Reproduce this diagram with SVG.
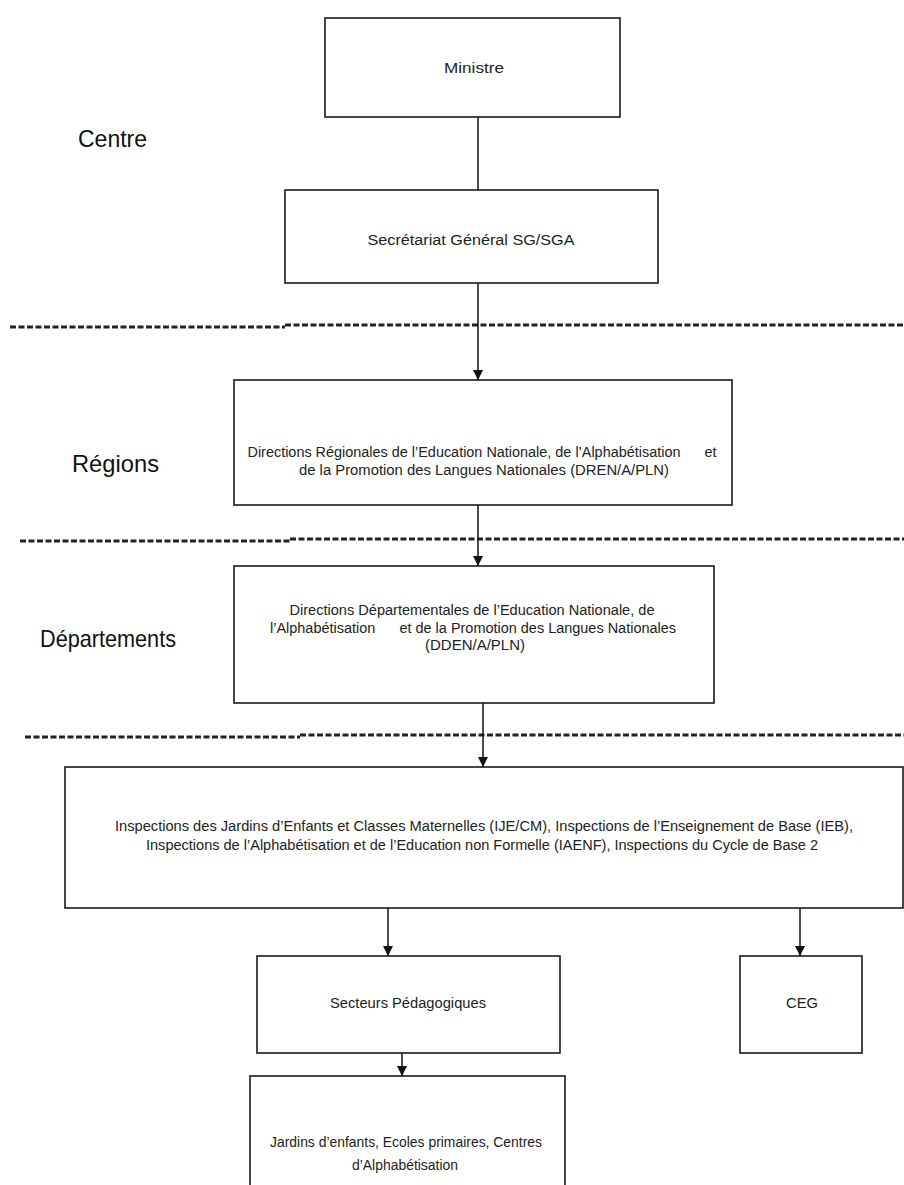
<svg xmlns="http://www.w3.org/2000/svg" width="904" height="1185" viewBox="0 0 904 1185">
<style>
.box{fill:#fff;stroke:#1a1a1a;stroke-width:1.6}
.t{font-family:"Liberation Sans",Arial,sans-serif;font-size:14px;fill:#222;text-anchor:middle;white-space:pre}
.lab{font-family:"Liberation Sans",Arial,sans-serif;font-size:24px;fill:#111}
.c{stroke:#111;stroke-width:1.5;fill:none}
.d{stroke:#222;stroke-width:3;stroke-dasharray:6 2.5;fill:none}
</style>
<defs>
<marker id="ar" viewBox="0 0 10 10" refX="10" refY="5" markerWidth="10" markerHeight="10" markerUnits="userSpaceOnUse" orient="auto">
<path d="M0,0 L10,5 L0,10 z" fill="#111"/>
</marker>
</defs>
<rect width="904" height="1185" fill="#fff"/>
<g id="labels">
<text class="lab" x="78" y="147" textLength="69" lengthAdjust="spacingAndGlyphs">Centre</text>
<text class="lab" x="72" y="472" textLength="87" lengthAdjust="spacingAndGlyphs">Régions</text>
<text class="lab" x="40" y="647" textLength="136" lengthAdjust="spacingAndGlyphs">Départements</text>
</g>
<g id="separators">
<path class="d" d="M10,327 L285,327 M285,325 L904,325"/>
<path class="d" d="M20,541 L290,541 M290,539 L904,539"/>
<path class="d" d="M25,737 L300,737 M300,735 L904,735"/>
</g>
<g id="connectors">
<path class="c" d="M478,117 L478,190"/>
<path class="c" d="M478,283 L478,380" marker-end="url(#ar)"/>
<path class="c" d="M478,505 L478,566" marker-end="url(#ar)"/>
<path class="c" d="M483,703 L483,767" marker-end="url(#ar)"/>
<path class="c" d="M388,908 L388,956" marker-end="url(#ar)"/>
<path class="c" d="M800,908 L800,956" marker-end="url(#ar)"/>
<path class="c" d="M402,1053 L402,1076" marker-end="url(#ar)"/>
</g>
<g id="ministre">
<rect class="box" x="325" y="18" width="295" height="99"/>
<text class="t" x="474" y="73" textLength="60" lengthAdjust="spacingAndGlyphs">Ministre</text>
</g>
<g id="sg">
<rect class="box" x="285" y="190" width="373" height="93"/>
<text class="t" x="471" y="245" textLength="207" lengthAdjust="spacingAndGlyphs">Secrétariat Général SG/SGA</text>
</g>
<g id="dren">
<rect class="box" x="234" y="380" width="498" height="125"/>
<text class="t" x="482" y="457" textLength="469" lengthAdjust="spacingAndGlyphs">Directions Régionales de l’Education Nationale, de l’Alphabétisation      et</text>
<text class="t" x="484" y="475" textLength="370" lengthAdjust="spacingAndGlyphs">de la Promotion des Langues Nationales (DREN/A/PLN)</text>
</g>
<g id="dden">
<rect class="box" x="234" y="566" width="480" height="137"/>
<text class="t" x="472" y="615" textLength="365" lengthAdjust="spacingAndGlyphs">Directions Départementales de l’Education Nationale, de</text>
<text class="t" x="473" y="633" textLength="406" lengthAdjust="spacingAndGlyphs">l’Alphabétisation      et de la Promotion des Langues Nationales</text>
<text class="t" x="475" y="650" textLength="100" lengthAdjust="spacingAndGlyphs">(DDEN/A/PLN)</text>
</g>
<g id="inspections">
<rect class="box" x="65" y="767" width="838" height="141"/>
<text class="t" x="484" y="831" textLength="738" lengthAdjust="spacingAndGlyphs">Inspections des Jardins d’Enfants et Classes Maternelles (IJE/CM), Inspections de l’Enseignement de Base (IEB),</text>
<text class="t" x="482" y="850" textLength="672" lengthAdjust="spacingAndGlyphs">Inspections de l’Alphabétisation et de l’Education non Formelle (IAENF), Inspections du Cycle de Base 2</text>
</g>
<g id="secteurs">
<rect class="box" x="257" y="956" width="303" height="97"/>
<text class="t" x="408" y="1008" textLength="156" lengthAdjust="spacingAndGlyphs">Secteurs Pédagogiques</text>
</g>
<g id="ceg">
<rect class="box" x="740" y="956" width="122" height="97"/>
<text class="t" x="802" y="1008" textLength="32" lengthAdjust="spacingAndGlyphs">CEG</text>
</g>
<g id="jardins">
<rect class="box" x="250" y="1076" width="315" height="120"/>
<text class="t" x="406" y="1147" textLength="272" lengthAdjust="spacingAndGlyphs">Jardins d’enfants, Ecoles primaires, Centres</text>
<text class="t" x="405" y="1170" textLength="106" lengthAdjust="spacingAndGlyphs">d’Alphabétisation</text>
</g>
</svg>
